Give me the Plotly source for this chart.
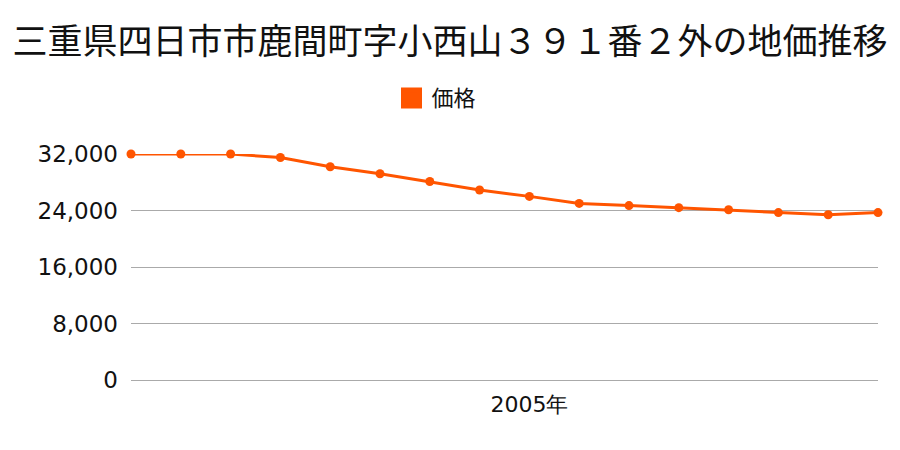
import plotly.graph_objects as go

years = list(range(1997, 2013))
prices = [32000, 32000, 32000, 31500, 30200, 29200, 28100, 26900,
          26000, 25000, 24700, 24400, 24100, 23700, 23400, 23700]
y_ticks = [0, 8000, 16000, 24000, 32000]
y_tick_labels = ["0", "8,000", "16,000", "24,000", "32,000"]
x_tick_vals = [2005]
x_tick_labels = ["2005年"]

title_text = "三重県四日市市鹿間町字小西山３９１番２外の地価推移"
series_name = "価格"
color = "#FF5500"

fig = go.Figure()
fig.add_trace(go.Scatter(
    x=years, y=prices, mode="lines+markers", name=series_name,
    line=dict(color=color, width=3),
    marker=dict(color=color, size=9),
    cliponaxis=False, showlegend=False,
))
# legend-only entry with a square swatch
fig.add_trace(go.Scatter(
    x=[None], y=[None], mode="markers", name=series_name,
    marker=dict(color=color, size=16, symbol="square",
                line=dict(color=color, width=6)),
    showlegend=True,
))

fig.update_layout(
    width=900, height=450,
    margin=dict(l=131, r=22, t=154, b=70),
    paper_bgcolor="white", plot_bgcolor="white",
    font=dict(family="Noto Sans CJK JP", color="#111111"),
    title=dict(text=title_text, x=0.5, xanchor="center", y=0.907, yanchor="middle",
               font=dict(size=35, family="Noto Sans CJK JP", color="#111111")),
    showlegend=True,
    legend=dict(orientation="h", x=0.409, xanchor="center", y=0.782, yanchor="middle",
                yref="container", font=dict(size=22, family="Noto Sans CJK JP"),
                itemsizing="trace"),
    xaxis=dict(range=[1997, 2012], tickvals=x_tick_vals, ticktext=x_tick_labels,
               showgrid=False, zeroline=False, showline=False, ticks="",
               ticklabelstandoff=9,
               tickfont=dict(size=22, family="DejaVu Sans", color="#111111")),
    yaxis=dict(range=[0, 32000], tickvals=y_ticks, ticktext=y_tick_labels,
               showgrid=True, gridcolor="#aaaaaa", gridwidth=1,
               zeroline=True, zerolinecolor="#aaaaaa", zerolinewidth=1,
               showline=False, ticks="",
               ticklabelstandoff=12,
               tickfont=dict(size=23, family="DejaVu Sans", color="#111111")),
)
fig.write_html("out.html")
